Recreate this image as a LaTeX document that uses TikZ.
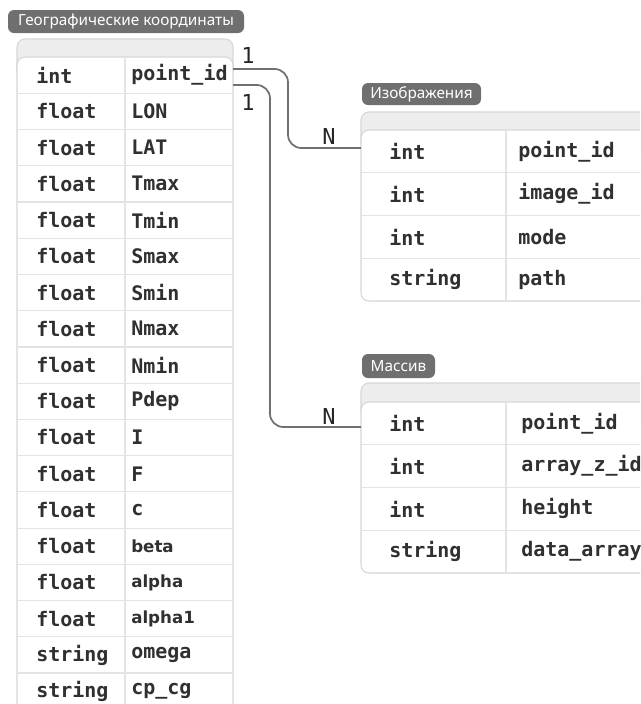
\documentclass[tikz,border=0pt]{standalone}
\usepackage{fontspec}
\setmainfont{Noto Sans}
\newfontfamily\monofont{DejaVu Sans Mono}
\newfontfamily\tagfamily{Noto Sans}
\newfontfamily\namesans{DejaVu Sans}
\definecolor{tagfill}{HTML}{6F6F6F}
\definecolor{headfill}{HTML}{EDEDED}
\definecolor{border}{HTML}{D6D6D6}
\definecolor{rowline}{HTML}{E4E4E4}
\definecolor{cell}{HTML}{303030}
\definecolor{link}{HTML}{707070}
\tikzset{
  tagbox/.style={fill=tagfill, rounded corners=4.5},
  tagtext/.style={text=white, inner sep=0pt, font=\tagfamily\fontsize{11.5}{13}\selectfont},
  headband/.style={fill=headfill, draw=border, line width=0.8, rounded corners=6},
  rowsbox/.style={fill=white, draw=border, line width=0.8, rounded corners=6},
  sepline/.style={draw=rowline, line width=0.9},
  celltext/.style={anchor=west, inner sep=0pt, text=cell, font=\monofont\bfseries\fontsize{15}{17}\selectfont},
  celltextsans/.style={anchor=west, inner sep=0pt, text=cell, font=\namesans\bfseries\fontsize{12.5}{14}\selectfont},
  relation/.style={draw=link, line width=1.3, rounded corners=10},
  cardinality/.style={inner sep=0pt, text=black!85, font=\monofont\fontsize{16.5}{18}\selectfont}
}
\begin{document}
\begin{tikzpicture}[x=0.75pt, y=-0.75pt]
\useasboundingbox (0,0) rectangle (640,704);
\clip (0,0) rectangle (640,704);

% ---------- Table: Географические координаты ----------
\fill[tagbox] (8,10) rectangle (244,33);
\node[tagtext] (geotag) at (126,21.5) {Географические координаты};
\path[headband] (17,39) rectangle (233,80);
\path[rowsbox] (17,57) rectangle (233,730);
\foreach \i in {1,...,18} {
  \draw[sepline] (17,{57+36.24*\i}) -- (233,{57+36.24*\i});
}
\draw[sepline] (125,57) -- (125,730);
\foreach [count=\i] \t/\n/\s in {
  int/point\_id/celltext, float/LON/celltext, float/LAT/celltext,
  float/Tmax/celltext, float/Tmin/celltext, float/Smax/celltext,
  float/Smin/celltext, float/Nmax/celltext, float/Nmin/celltext,
  float/Pdep/celltext, float/I/celltext, float/F/celltext,
  float/c/celltext, float/beta/celltextsans, float/alpha/celltextsans,
  float/alpha1/celltextsans, string/omega/celltext, string/cp\_cg/celltext} {
  \node[celltext] (geot\i) at (36,{57+36.24*(\i-0.5)}) {\t};
  \node[\s] (geon\i) at (131,{57+36.24*(\i-0.5)}) {\n};
}

% ---------- Table: Изображения ----------
\fill[tagbox] (362,83) rectangle (481,105);
\node[tagtext] (imgtag) at (421.5,94) {Изображения};
\path[headband] (361,112) rectangle (680,150);
\path[rowsbox] (361,130) rectangle (680,301);
\foreach \i in {1,2,3} {
  \draw[sepline] (361,{130+42.75*\i}) -- (680,{130+42.75*\i});
}
\draw[sepline] (506,130) -- (506,301);
\foreach [count=\i] \t/\n in {int/point\_id, int/image\_id, int/mode, string/path} {
  \node[celltext] (imgt\i) at (389,{130+42.75*(\i-0.5)}) {\t};
  \node[celltext] (imgn\i) at (518,{130+42.75*(\i-0.5)}) {\n};
}

% ---------- Table: Массив ----------
\fill[tagbox] (362,354) rectangle (435,378);
\node[tagtext] (arrtag) at (398.5,366) {Массив};
\path[headband] (361,383) rectangle (680,420);
\path[rowsbox] (361,402) rectangle (680,573);
\foreach \i in {1,2,3} {
  \draw[sepline] (361,{402+42.75*\i}) -- (680,{402+42.75*\i});
}
\draw[sepline] (506,402) -- (506,573);
\foreach [count=\i] \t/\n in {int/point\_id, int/array\_z\_id, int/height, string/data\_array} {
  \node[celltext] (arrt\i) at (389,{402+42.75*(\i-0.5)}) {\t};
  \node[celltext] (arrn\i) at (521,{402+42.75*(\i-0.5)}) {\n};
}

% ---------- Relations (1 : N) ----------
\coordinate (geoA) at (233,69);
\coordinate (geoB) at (233,85);
\coordinate (imgIn) at (361,148);
\coordinate (arrIn) at (361,427);
\draw[relation] (geoA) -| (288,148) -- (imgIn);
\draw[relation] (geoB) -| (270,427) -- (arrIn);
\node[cardinality] (c1a) at (248,55) {1};
\node[cardinality] (c1b) at (248,102) {1};
\node[cardinality] (cNa) at (329,136) {N};
\node[cardinality] (cNb) at (329,416) {N};
\end{tikzpicture}
\end{document}
